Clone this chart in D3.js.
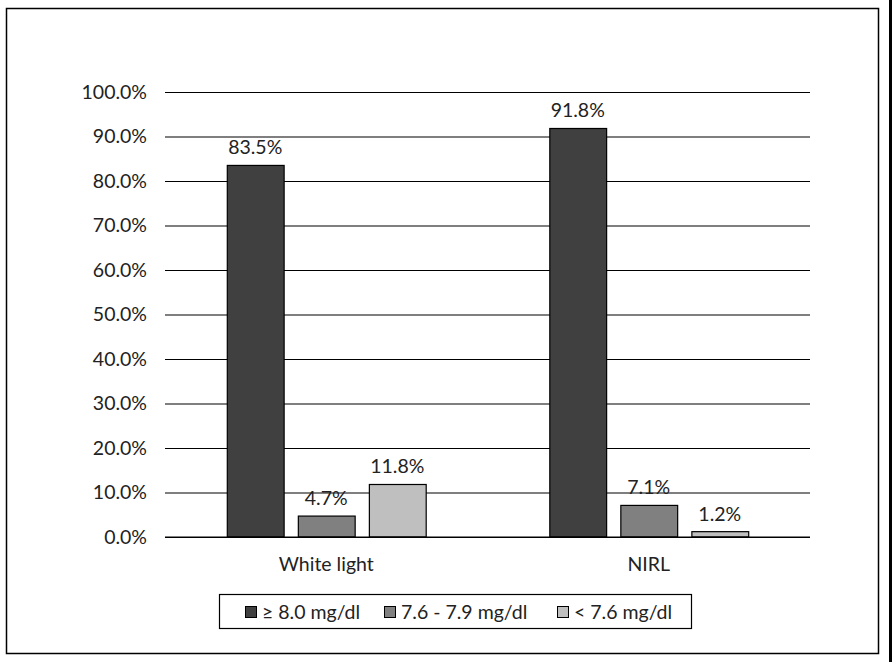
<!DOCTYPE html>
<html><head><meta charset="utf-8">
<script src="https://cdn.jsdelivr.net/npm/d3@7/dist/d3.min.js"></script>
<style>body{margin:0;background:#fff}svg{display:block}</style>
</head><body>
<svg id="c" width="892" height="662"></svg>
<script>
const categories = ["White light", "NIRL"];
const seriesNames = ["≥ 8.0 mg/dl", "7.6 - 7.9 mg/dl", "< 7.6 mg/dl"];
const whiteLight = [83.5, 4.7, 11.8];
const nirl = [91.8, 7.1, 1.2];
const tickValues = [0, 10, 20, 30, 40, 50, 60, 70, 80, 90, 100];
const colors = ["#404040", "#808080", "#bfbfbf"];

const values = [whiteLight, nirl];
const font = "Lato, 'Open Sans', sans-serif";
const fs = 19.5;
const svg = d3.select("#c");

// outer frame
svg.append("rect").attr("x", 6.5).attr("y", 8.5).attr("width", 872).attr("height", 645)
  .attr("fill", "#fff").attr("stroke", "#000").attr("stroke-width", 1.5);
svg.append("rect").attr("x", 889).attr("y", 0).attr("width", 3).attr("height", 662).attr("fill", "#000");

const x0 = d3.scaleBand().domain(categories).range([165, 810]).paddingInner(0).paddingOuter(0);
const x1 = d3.scaleBand().domain(seriesNames).range([0, x0.bandwidth()]).paddingInner(0.2).paddingOuter(0.87);
const y = d3.scaleLinear().domain([0, 100]).range([537, 92]);

// gridlines
const yAxis = d3.axisLeft(y).tickValues(tickValues).tickSize(-(810 - 165)).tickPadding(18)
  .tickFormat(d => d.toFixed(1) + "%");
const gy = svg.append("g").attr("transform", "translate(165,0)").call(yAxis);
gy.select(".domain").remove();
gy.selectAll(".tick line").attr("stroke", "#000").attr("stroke-width", 1.2);
gy.selectAll(".tick text").attr("font-family", font).attr("font-size", fs).attr("fill", "#222");

// bars
const groups = svg.append("g").selectAll("g").data(categories).join("g")
  .attr("transform", d => `translate(${x0(d)},0)`);
groups.each(function(cat, ci) {
  const g = d3.select(this);
  const data = seriesNames.map((s, si) => ({s, si, v: values[ci][si]}));
  g.selectAll("rect").data(data).join("rect")
    .attr("x", d => x1(d.s) + 0.5).attr("y", d => y(d.v))
    .attr("width", x1.bandwidth()).attr("height", d => y(0) - y(d.v))
    .attr("fill", d => colors[d.si]).attr("stroke", "#000").attr("stroke-width", 1.2);
  g.selectAll("text").data(data).join("text")
    .attr("x", d => x1(d.s) + x1.bandwidth() / 2).attr("y", d => y(d.v) - 11)
    .attr("text-anchor", "middle").attr("font-family", font).attr("font-size", fs).attr("fill", "#222")
    .text(d => d.v.toFixed(1) + "%");
});

// baseline
svg.append("line").attr("x1", 165).attr("x2", 810).attr("y1", y(0)).attr("y2", y(0))
  .attr("stroke", "#000").attr("stroke-width", 1.2);

// category labels
const xAxis = d3.axisBottom(x0).tickSize(0).tickPadding(20);
const gx = svg.append("g").attr("transform", `translate(0,${y(0)})`).call(xAxis);
gx.select(".domain").remove();
gx.selectAll(".tick text").attr("font-family", font).attr("font-size", fs).attr("fill", "#222");

// legend
svg.append("rect").attr("x", 219.5).attr("y", 594.5).attr("width", 472).attr("height", 34)
  .attr("fill", "#fff").attr("stroke", "#000").attr("stroke-width", 1.2);
const legendX = [245, 384, 557];
const lg = svg.append("g").selectAll("g").data(seriesNames).join("g")
  .attr("transform", (d, i) => `translate(${legendX[i]},606)`);
lg.append("rect").attr("x", 0.5).attr("y", 0.5).attr("width", 11).attr("height", 11)
  .attr("fill", (d, i) => colors[i]).attr("stroke", "#000").attr("stroke-width", 1);
lg.append("text").attr("x", 17).attr("y", 6).attr("dy", "0.35em")
  .attr("font-family", font).attr("font-size", fs).attr("fill", "#222").text(d => d);
</script>
</body></html>
